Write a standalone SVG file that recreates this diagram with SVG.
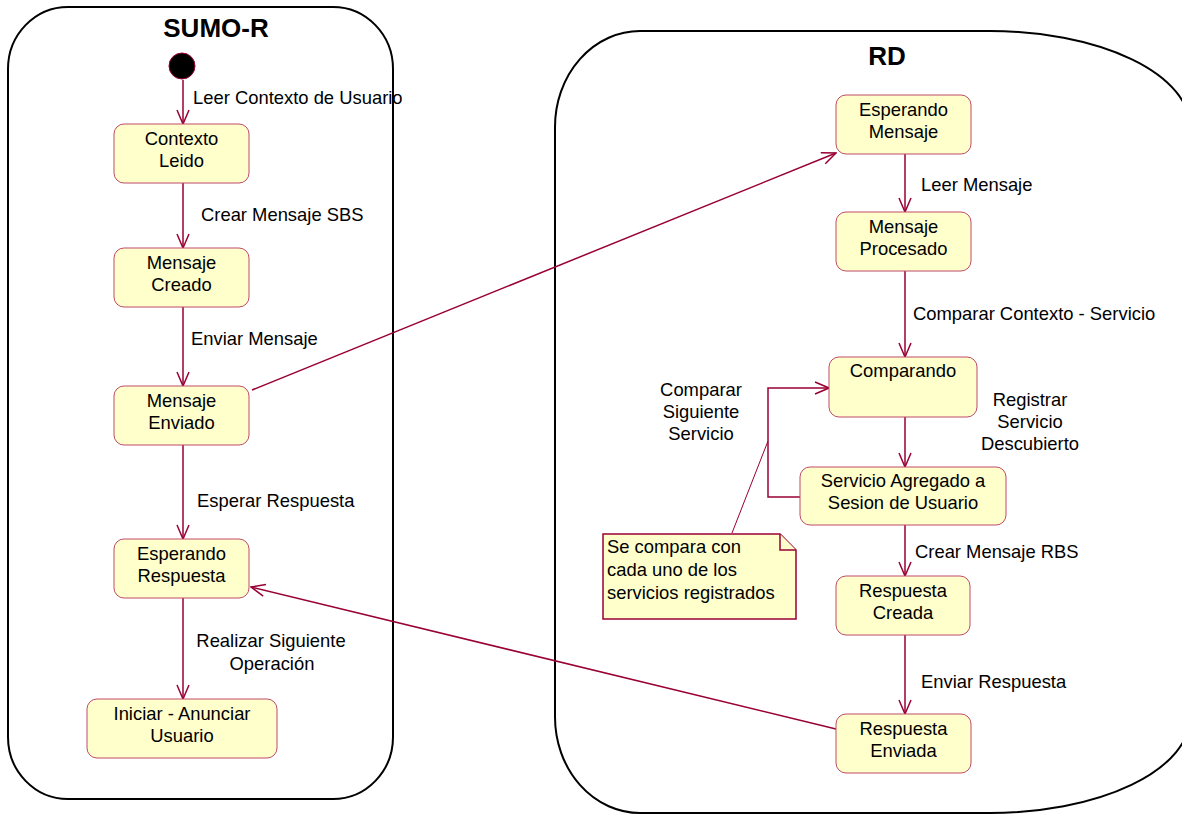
<svg xmlns="http://www.w3.org/2000/svg" width="1182" height="814" viewBox="0 0 1182 814">
  <style>
    .frame { fill: none; stroke: #000; stroke-width: 2; }
    .title { font-family: "Liberation Sans", Arial, sans-serif; font-size: 26px; font-weight: bold; fill: #000; text-anchor: middle; }
    .state rect { fill: #ffffcc; stroke: #c04a68; stroke-width: 1; }
    .lbl { font-family: "Liberation Sans", Arial, sans-serif; font-size: 18.4px; fill: #000; }
    .mid { text-anchor: middle; }
    .edge { fill: none; stroke: #990033; stroke-width: 1.5; }
    .arrow { marker-end: url(#open); }
    .note { fill: #ffffcc; stroke: #990033; stroke-width: 1.5; }
    .anchor { fill: none; stroke: #990033; stroke-width: 1; }
  </style>
  <defs>
    <marker id="open" viewBox="0 0 16 14" refX="15" refY="7" markerWidth="16" markerHeight="14" markerUnits="userSpaceOnUse" orient="auto">
      <path d="M1,1 L15,7 L1,13" fill="none" stroke="#990033" stroke-width="1.5"/>
    </marker>
  </defs>

  <rect width="1182" height="814" fill="#fff"/>

  <!-- composite state: SUMO-R -->
  <g id="sumo-r">
    <rect class="frame" x="8" y="7" width="385" height="792" rx="60" ry="62"/>
    <text class="title" x="216" y="37">SUMO-R</text>
  </g>

  <!-- composite state: RD -->
  <g id="rd">
    <path class="frame" d="M640,31 L990,31 A200 96 0 0 1 1190,127 L1190,717 A200 96 0 0 1 990,813 L640,813 A85 96 0 0 1 555,717 L555,127 A85 96 0 0 1 640,31 Z"/>
    <text class="title" x="887" y="65">RD</text>
  </g>

  <!-- transitions -->
  <g id="connectors">
    <line class="edge arrow" x1="183" y1="80" x2="183" y2="124"/>
    <line class="edge arrow" x1="183" y1="183" x2="183" y2="248"/>
    <line class="edge arrow" x1="183" y1="307" x2="183" y2="386"/>
    <line class="edge arrow" x1="183" y1="445" x2="183" y2="539"/>
    <line class="edge arrow" x1="183" y1="598" x2="183" y2="699"/>
    <line class="edge arrow" x1="252" y1="390" x2="836" y2="153"/>
    <line class="edge arrow" x1="905" y1="154" x2="905" y2="212"/>
    <line class="edge arrow" x1="905" y1="271" x2="905" y2="357"/>
    <line class="edge arrow" x1="905" y1="417" x2="905" y2="467"/>
    <polyline class="edge arrow" points="800,497 768,497 768,388 829,388"/>
    <line class="edge arrow" x1="905" y1="525" x2="905" y2="576"/>
    <line class="edge arrow" x1="905" y1="635" x2="905" y2="714"/>
    <line class="edge arrow" x1="836" y1="729" x2="251" y2="587"/>
    <line class="anchor" x1="732" y1="533" x2="768" y2="441"/>

    <text class="lbl" x="193" y="104">Leer Contexto de Usuario</text>
    <text class="lbl" x="201" y="221">Crear Mensaje SBS</text>
    <text class="lbl" x="191" y="345">Enviar Mensaje</text>
    <text class="lbl" x="197" y="507">Esperar Respuesta</text>
    <text class="lbl mid" x="271" y="647">Realizar Siguiente</text>
    <text class="lbl mid" x="272" y="670">Operación</text>
    <text class="lbl" x="921" y="191">Leer Mensaje</text>
    <text class="lbl" x="913" y="320">Comparar Contexto - Servicio</text>
    <text class="lbl mid" x="1030" y="406">Registrar</text>
    <text class="lbl mid" x="1030" y="428">Servicio</text>
    <text class="lbl mid" x="1030" y="450">Descubierto</text>
    <text class="lbl mid" x="701" y="396">Comparar</text>
    <text class="lbl mid" x="701" y="418">Siguiente</text>
    <text class="lbl mid" x="701" y="440">Servicio</text>
    <text class="lbl" x="915" y="558">Crear Mensaje RBS</text>
    <text class="lbl" x="921" y="688">Enviar Respuesta</text>
  </g>

  <!-- SUMO-R states -->
  <g id="inicio">
    <circle cx="182" cy="66" r="13" fill="#000" stroke="#990033" stroke-width="1"/>
  </g>
  <g id="contexto-leido" class="state">
    <rect x="114" y="124" width="135" height="59" rx="10"/>
    <text class="lbl mid" x="181.5" y="145">Contexto</text>
    <text class="lbl mid" x="181.5" y="167">Leido</text>
  </g>
  <g id="mensaje-creado" class="state">
    <rect x="114" y="248" width="135" height="59" rx="10"/>
    <text class="lbl mid" x="181.5" y="269">Mensaje</text>
    <text class="lbl mid" x="181.5" y="291">Creado</text>
  </g>
  <g id="mensaje-enviado" class="state">
    <rect x="114" y="386" width="135" height="59" rx="10"/>
    <text class="lbl mid" x="181.5" y="407">Mensaje</text>
    <text class="lbl mid" x="181.5" y="429">Enviado</text>
  </g>
  <g id="esperando-respuesta" class="state">
    <rect x="114" y="539" width="135" height="59" rx="10"/>
    <text class="lbl mid" x="181.5" y="560">Esperando</text>
    <text class="lbl mid" x="181.5" y="582">Respuesta</text>
  </g>
  <g id="iniciar-anunciar" class="state">
    <rect x="87" y="699" width="190" height="59" rx="10"/>
    <text class="lbl mid" x="182" y="720">Iniciar - Anunciar</text>
    <text class="lbl mid" x="182" y="742">Usuario</text>
  </g>

  <!-- RD states -->
  <g id="esperando-mensaje" class="state">
    <rect x="836" y="95" width="135" height="59" rx="10"/>
    <text class="lbl mid" x="903.5" y="116">Esperando</text>
    <text class="lbl mid" x="903.5" y="138">Mensaje</text>
  </g>
  <g id="mensaje-procesado" class="state">
    <rect x="836" y="212" width="135" height="59" rx="10"/>
    <text class="lbl mid" x="903.5" y="233">Mensaje</text>
    <text class="lbl mid" x="903.5" y="255">Procesado</text>
  </g>
  <g id="comparando" class="state">
    <rect x="829" y="357" width="148" height="60" rx="10"/>
    <text class="lbl mid" x="903" y="377">Comparando</text>
  </g>
  <g id="servicio-agregado" class="state">
    <rect x="800" y="467" width="206" height="58" rx="10"/>
    <text class="lbl mid" x="903" y="487">Servicio Agregado a</text>
    <text class="lbl mid" x="903" y="509">Sesion de Usuario</text>
  </g>
  <g id="respuesta-creada" class="state">
    <rect x="836" y="576" width="134" height="59" rx="10"/>
    <text class="lbl mid" x="903" y="597">Respuesta</text>
    <text class="lbl mid" x="903" y="619">Creada</text>
  </g>
  <g id="respuesta-enviada" class="state">
    <rect x="836" y="714" width="135" height="59" rx="10"/>
    <text class="lbl mid" x="903.5" y="735">Respuesta</text>
    <text class="lbl mid" x="903.5" y="757">Enviada</text>
  </g>

  <!-- comment note -->
  <g id="nota">
    <path class="note" d="M603,534 L780,534 L796,550 L796,619 L603,619 Z"/>
    <path class="note" d="M780,534 L780,550 L796,550" fill="none"/>
    <text class="lbl" x="607" y="553">Se compara con</text>
    <text class="lbl" x="607" y="576">cada uno de los</text>
    <text class="lbl" x="607" y="599">servicios registrados</text>
  </g>
</svg>
